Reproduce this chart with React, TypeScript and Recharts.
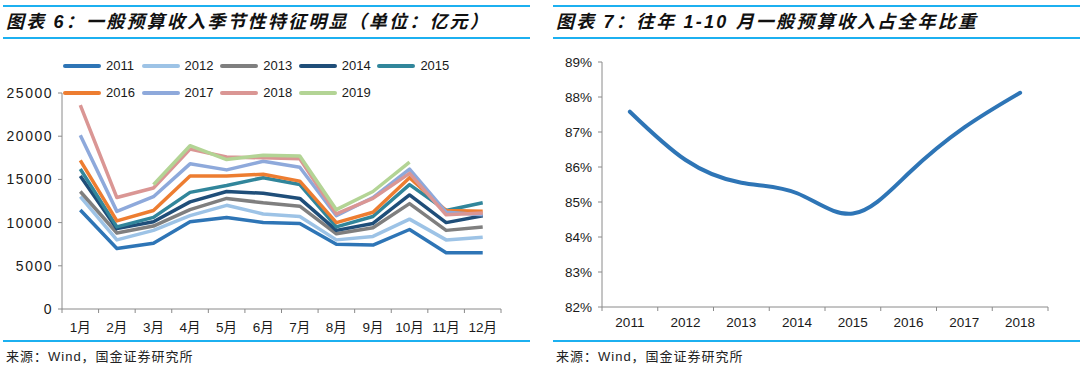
import React from 'react';
import { LineChart, Line, XAxis, YAxis, Legend } from 'recharts';

const months = ['1月', '2月', '3月', '4月', '5月', '6月', '7月', '8月', '9月', '10月', '11月', '12月'];
const seriesYears = ['2011', '2012', '2013', '2014', '2015', '2016', '2017', '2018', '2019'];
const seriesColors = ['#2E75B6', '#9DC3E6', '#7F7F7F', '#1F4E79', '#31869B', '#ED7D31', '#8EA9DB', '#DA9694', '#B3D495'];

const v2011 = [11450, 7000, 7600, 10100, 10600, 10000, 9900, 7500, 7400, 9200, 6500, 6500];
const v2012 = [13000, 8000, 9100, 10800, 12000, 11000, 10700, 8000, 8400, 10400, 8000, 8300];
const v2013 = [13600, 8800, 9600, 11500, 12800, 12300, 11900, 8700, 9400, 12200, 9100, 9500];
const v2014 = [15400, 9300, 10100, 12400, 13600, 13400, 12800, 9100, 9900, 13200, 10000, 10800];
const v2015 = [16200, 9500, 10600, 13500, 14300, 15200, 14400, 9500, 10700, 14400, 11400, 12300];
const v2016 = [17200, 10200, 11400, 15400, 15400, 15600, 14800, 10000, 11200, 15200, 11400, 11300];
const v2017 = [20100, 11300, 13000, 16800, 16100, 17100, 16400, 10800, 12900, 16200, 11200, 10900];
const v2018 = [23600, 12900, 14000, 18500, 17600, 17500, 17400, 11000, 12800, 15700, 10900, 11100];
const v2019 = [null, null, 14400, 18900, 17300, 17800, 17700, 11500, 13600, 17000, null, null];
const seriesValues = [v2011, v2012, v2013, v2014, v2015, v2016, v2017, v2018, v2019];
const leftTicks = [0, 5000, 10000, 15000, 20000, 25000];

const shareYears = ['2011', '2012', '2013', '2014', '2015', '2016', '2017', '2018'];
const shareValues = [87.58, 86.2, 85.55, 85.25, 84.67, 85.82, 87.13, 88.12];
const rightTicks = [82, 83, 84, 85, 86, 87, 88, 89];

const leftData = months.map((m, i) => {
  const row: any = { month: m };
  seriesYears.forEach((y, k) => {
    row[y] = seriesValues[k][i];
  });
  return row;
});
const rightData = shareYears.map((y, i) => ({ year: y, share: shareValues[i] }));

const FONT = "'Liberation Sans', Arial, 'Noto Sans CJK SC', sans-serif";
const AXIS = '#8A8A8A';
const RULE = '#1CB0F0';

const LEFT_PLOT_W = 439;
const RIGHT_PLOT_W = 446;
const leftHalf = LEFT_PLOT_W / (2 * months.length);
const rightHalf = RIGHT_PLOT_W / (2 * shareYears.length);

const makeXTick = (textOffset: number, lastIndex: number, half: number) => (props: any) => {
  const { x, y, payload, index } = props;
  const axisY = y - 4;
  return (
    <g>
      <line x1={x - half} x2={x - half} y1={axisY} y2={axisY + 4} stroke={AXIS} strokeWidth={1} />
      {index === lastIndex && (
        <line x1={x + half} x2={x + half} y1={axisY} y2={axisY + 4} stroke={AXIS} strokeWidth={1} />
      )}
      <text x={x} y={axisY + textOffset} textAnchor="middle" fontSize={13.5} fill="#1a1a1a" fontFamily={FONT}>
        {payload.value}
      </text>
    </g>
  );
};

const LegendContent = () => (
  <div style={{ width: 420, fontFamily: FONT, fontSize: 13, color: '#1a1a1a' }}>
    {[0, 1].map((row) => (
      <div key={row} style={{ display: 'flex', height: 27, alignItems: 'center' }}>
        {seriesYears.slice(row * 5, row * 5 + 5).map((y, j) => (
          <div key={y} style={{ display: 'flex', alignItems: 'center', width: 78.6 }}>
            <span
              style={{
                display: 'inline-block',
                width: 38,
                height: 4,
                borderRadius: 2,
                background: seriesColors[row * 5 + j],
                marginRight: 5,
              }}
            />
            <span>{y}</span>
          </div>
        ))}
      </div>
    ))}
  </div>
);

const Title = ({ left, width, text }: { left: number; width: number; text: string }) => (
  <div style={{ position: 'absolute', left, top: 0, width, height: 40 }}>
    <div style={{ position: 'absolute', left: 0, top: 5, width, height: 2, background: RULE }} />
    <div
      style={{
        position: 'absolute',
        left: 3,
        top: 9,
        fontFamily: "'Liberation Sans', Arial, 'Noto Sans CJK SC', sans-serif",
        fontWeight: 700,
        fontStyle: 'italic',
        fontSize: 18,
        letterSpacing: 2.2,
        lineHeight: '26px',
        color: '#111',
        whiteSpace: 'nowrap',
      }}
    >
      {text}
    </div>
    <div style={{ position: 'absolute', left: 0, top: 37, width, height: 2, background: RULE }} />
  </div>
);

const Source = ({ left, width }: { left: number; width: number }) => (
  <div style={{ position: 'absolute', left, top: 340, width, height: 25 }}>
    <div style={{ position: 'absolute', left: 0, top: 0, width, height: 2, background: RULE }} />
    <div
      style={{
        position: 'absolute',
        left: 3,
        top: 8,
        fontFamily: "'Liberation Sans', Arial, 'Noto Sans CJK SC', sans-serif",
        fontSize: 13,
        letterSpacing: 1,
        lineHeight: '18px',
        color: '#222',
        whiteSpace: 'nowrap',
      }}
    >
      来源：Wind，国金证券研究所
    </div>
  </div>
);

export default function App() {
  return (
    <div
      style={{
        position: 'absolute',
        left: 0,
        top: 0,
        width: 1080,
        height: 365,
        background: '#fff',
        fontFamily: FONT,
        overflow: 'hidden',
      }}
    >
      <Title left={3} width={527} text="图表 6：一般预算收入季节性特征明显（单位：亿元）" />
      <Title left={553} width={527} text="图表 7：往年 1-10 月一般预算收入占全年比重" />

      <div style={{ position: 'absolute', left: 0, top: 0, width: 540, height: 340 }}>
        <LineChart width={540} height={340} data={leftData} margin={{ top: 93, right: 39, left: 0, bottom: 1 }}>
          <XAxis
            dataKey="month"
            height={30}
            tickSize={4}
            tickMargin={0}
            tickLine={false}
            axisLine={{ stroke: AXIS }}
            interval={0}
            padding={{ left: leftHalf, right: leftHalf }}
            tick={makeXTick(22.5, months.length - 1, leftHalf)}
          />
          <YAxis
            width={62}
            domain={[0, 25000]}
            ticks={leftTicks}
            interval={0}
            tickSize={4}
            tickMargin={5}
            axisLine={{ stroke: AXIS }}
            tickLine={{ stroke: AXIS }}
            tick={{ fontSize: 14, fill: '#1a1a1a', fontFamily: FONT, letterSpacing: 1.5 } as any}
          />
          <Legend
            layout="horizontal"
            verticalAlign="middle"
            align="center"
            wrapperStyle={{ top: 52, left: 63, width: 420 }}
            content={() => <LegendContent />}
          />
          {seriesYears.map((y, k) => (
            <Line
              key={y}
              type="linear"
              dataKey={y}
              stroke={seriesColors[k]}
              strokeWidth={3.5}
              dot={false}
              activeDot={false}
              isAnimationActive={false}
              connectNulls={false}
              strokeLinejoin="round"
            />
          ))}
        </LineChart>
      </div>

      <div style={{ position: 'absolute', left: 540, top: 0, width: 540, height: 340 }}>
        <LineChart width={540} height={340} data={rightData} margin={{ top: 62, right: 32, left: 0, bottom: 3 }}>
          <XAxis
            dataKey="year"
            height={30}
            tickSize={4}
            tickMargin={0}
            tickLine={false}
            axisLine={{ stroke: AXIS }}
            interval={0}
            padding={{ left: rightHalf, right: rightHalf }}
            tick={makeXTick(20, shareYears.length - 1, rightHalf)}
          />
          <YAxis
            width={62}
            domain={[82, 89]}
            ticks={rightTicks}
            interval={0}
            tickSize={4}
            tickMargin={6}
            axisLine={{ stroke: AXIS }}
            tickLine={{ stroke: AXIS }}
            tickFormatter={(v: number) => `${v}%`}
            tick={{ fontSize: 13.5, fill: '#1a1a1a', fontFamily: FONT }}
          />
          <Line
            type="natural"
            dataKey="share"
            stroke="#2E75B6"
            strokeWidth={4}
            dot={false}
            activeDot={false}
            isAnimationActive={false}
            strokeLinecap="round"
          />
        </LineChart>
      </div>

      <Source left={3} width={527} />
      <Source left={553} width={527} />
    </div>
  );
}
